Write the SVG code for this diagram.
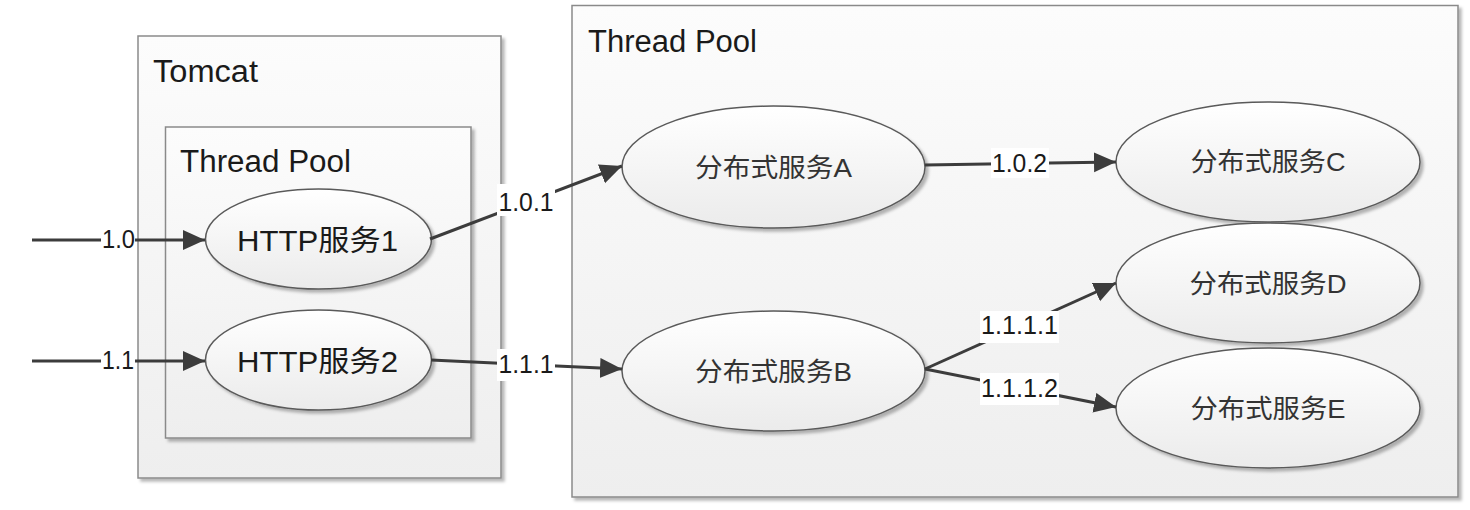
<svg xmlns="http://www.w3.org/2000/svg" width="1470" height="510" viewBox="0 0 1470 510">
  <defs>
    <linearGradient id="boxFill" x1="0" y1="0" x2="0" y2="1">
      <stop offset="0" stop-color="#fcfcfc"/>
      <stop offset="1" stop-color="#eeeeee"/>
    </linearGradient>
    <linearGradient id="ellFill" x1="0" y1="0" x2="0" y2="1">
      <stop offset="0" stop-color="#ffffff"/>
      <stop offset="1" stop-color="#ebebeb"/>
    </linearGradient>
    <filter id="shadow" x="-5%" y="-5%" width="112%" height="112%">
      <feDropShadow dx="3" dy="3" stdDeviation="1.8" flood-color="#000000" flood-opacity="0.28"/>
    </filter>
    <marker id="arrow" markerUnits="userSpaceOnUse" markerWidth="24" markerHeight="22" refX="22" refY="10" orient="auto">
      <path d="M0,0 L22,10 L0,20 z" fill="#3c3c3c"/>
    </marker>
  </defs>
  <style>
    .box { fill: url(#boxFill); stroke: #8a8a8a; stroke-width: 1.5; filter: url(#shadow); }
    .ell { fill: url(#ellFill); stroke: #5a5a5a; stroke-width: 1.5; filter: url(#shadow); }
    .title { font-family: "Liberation Sans", "Noto Sans CJK SC", sans-serif; font-size: 31px; fill: #1a1a1a; }
    .http { font-family: "Liberation Sans", "Noto Sans CJK SC", sans-serif; font-size: 29px; fill: #1a1a1a; text-anchor: middle; }
    .svc { font-family: "Liberation Sans", "Noto Sans CJK SC", sans-serif; font-size: 26px; fill: #333333; text-anchor: middle; }
    .edge { stroke: #3c3c3c; stroke-width: 3; fill: none; }
    .lbl { font-family: "Liberation Sans", "Noto Sans CJK SC", sans-serif; font-size: 26px; fill: #1a1a1a; text-anchor: middle; }
    .lblbg { fill: #ffffff; }
  </style>

  <rect width="1470" height="510" fill="#ffffff"/>

  <g id="tomcat">
    <rect class="box" x="138" y="36" width="363" height="442"/>
    <text class="title" x="153" y="82" textLength="105" lengthAdjust="spacingAndGlyphs">Tomcat</text>
  </g>

  <g id="tomcat-thread-pool">
    <rect class="box" x="165.5" y="127" width="305.5" height="311"/>
    <text class="title" x="180" y="172" textLength="171" lengthAdjust="spacingAndGlyphs">Thread Pool</text>
  </g>

  <g id="thread-pool">
    <rect class="box" x="572" y="5.5" width="886" height="491.5"/>
    <text class="title" x="588" y="52" textLength="169" lengthAdjust="spacingAndGlyphs">Thread Pool</text>
  </g>

  <g id="http1">
    <ellipse class="ell" cx="318.5" cy="239" rx="113" ry="50"/>
    <text class="http" x="317.5" y="251" textLength="161" lengthAdjust="spacingAndGlyphs">HTTP服务1</text>
  </g>

  <g id="http2">
    <ellipse class="ell" cx="318.5" cy="360" rx="113" ry="50"/>
    <text class="http" x="317.5" y="372" textLength="161" lengthAdjust="spacingAndGlyphs">HTTP服务2</text>
  </g>

  <g id="svcA">
    <ellipse class="ell" cx="773.5" cy="167" rx="151.5" ry="61"/>
    <text class="svc" x="773.5" y="177" textLength="157" lengthAdjust="spacingAndGlyphs">分布式服务A</text>
  </g>

  <g id="svcB">
    <ellipse class="ell" cx="773.5" cy="371" rx="151.5" ry="60"/>
    <text class="svc" x="773.5" y="381" textLength="157" lengthAdjust="spacingAndGlyphs">分布式服务B</text>
  </g>

  <g id="svcC">
    <ellipse class="ell" cx="1268" cy="162" rx="152" ry="60"/>
    <text class="svc" x="1268" y="171" textLength="155" lengthAdjust="spacingAndGlyphs">分布式服务C</text>
  </g>

  <g id="svcD">
    <ellipse class="ell" cx="1268" cy="283" rx="152" ry="60"/>
    <text class="svc" x="1268" y="293" textLength="157" lengthAdjust="spacingAndGlyphs">分布式服务D</text>
  </g>

  <g id="svcE">
    <ellipse class="ell" cx="1268" cy="408" rx="152" ry="60"/>
    <text class="svc" x="1268" y="418" textLength="155" lengthAdjust="spacingAndGlyphs">分布式服务E</text>
  </g>

  <g id="connectors">
    <!-- 1.0 -->
    <line class="edge" x1="32" y1="240" x2="101" y2="240"/>
    <line class="edge" x1="135" y1="240" x2="205" y2="240" marker-end="url(#arrow)"/>
    <text class="lbl" x="118.5" y="248" textLength="33" lengthAdjust="spacingAndGlyphs">1.0</text>

    <!-- 1.1 -->
    <line class="edge" x1="32" y1="361" x2="101" y2="361"/>
    <line class="edge" x1="135" y1="361" x2="205" y2="361" marker-end="url(#arrow)"/>
    <text class="lbl" x="118" y="369" textLength="32" lengthAdjust="spacingAndGlyphs">1.1</text>

    <!-- 1.0.1 -->
    <line class="edge" x1="430" y1="239" x2="622" y2="166" marker-end="url(#arrow)"/>
    <rect class="lblbg" x="497" y="184" width="58" height="32"/>
    <text class="lbl" x="526" y="211" textLength="55" lengthAdjust="spacingAndGlyphs">1.0.1</text>

    <!-- 1.1.1 -->
    <line class="edge" x1="431" y1="360" x2="622" y2="369" marker-end="url(#arrow)"/>
    <rect class="lblbg" x="497" y="349" width="58" height="32"/>
    <text class="lbl" x="526" y="373" textLength="55" lengthAdjust="spacingAndGlyphs">1.1.1</text>

    <!-- 1.0.2 -->
    <line class="edge" x1="925" y1="165" x2="1116" y2="162" marker-end="url(#arrow)"/>
    <rect class="lblbg" x="991" y="148" width="58" height="30"/>
    <text class="lbl" x="1019.5" y="172" textLength="55" lengthAdjust="spacingAndGlyphs">1.0.2</text>

    <!-- 1.1.1.1 -->
    <line class="edge" x1="925" y1="369" x2="1116" y2="283" marker-end="url(#arrow)"/>
    <rect class="lblbg" x="980" y="311" width="79" height="32"/>
    <text class="lbl" x="1019.5" y="334" textLength="77" lengthAdjust="spacingAndGlyphs">1.1.1.1</text>

    <!-- 1.1.1.2 -->
    <line class="edge" x1="925" y1="369" x2="1116" y2="407" marker-end="url(#arrow)"/>
    <rect class="lblbg" x="980" y="373" width="79" height="32"/>
    <text class="lbl" x="1019.5" y="397" textLength="77" lengthAdjust="spacingAndGlyphs">1.1.1.2</text>
  </g>
</svg>
